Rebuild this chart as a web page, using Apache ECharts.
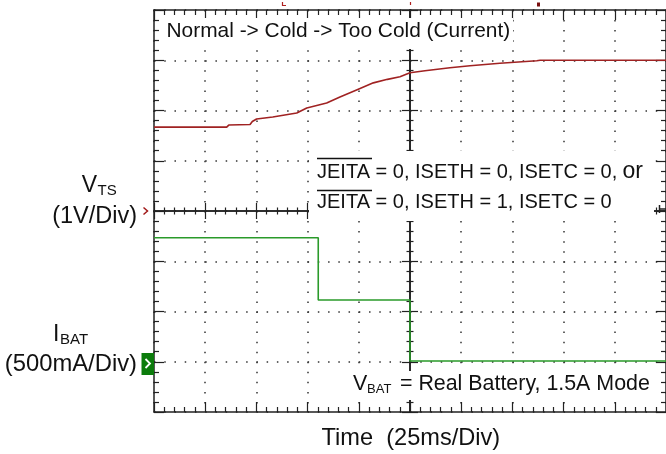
<!DOCTYPE html>
<html>
<head>
<meta charset="utf-8">
<script src="https://cdn.jsdelivr.net/npm/echarts@6/dist/echarts.min.js"></script>
<style>
html,body{margin:0;padding:0;background:#fff;}
#c{width:666px;height:454px;}
</style>
</head>
<body>
<div id="c"></div>
<script>
// ---- data (time in ms, VTS in volts, IBAT in mA) ----
const vtsTime  = [0, 35.5, 36.5, 46.9, 48.0, 50.1, 58.0, 69.7, 74.6, 84.3, 90.8, 98.9, 107.1, 114.0, 120.1, 125.0, 132.3, 144.5, 154.3, 168.9, 186.9, 188.5, 250];
const vtsVolts = [1.67, 1.67, 1.71, 1.72, 1.78, 1.83, 1.87, 1.95, 2.05, 2.15, 2.27, 2.41, 2.55, 2.62, 2.67, 2.75, 2.79, 2.85, 2.89, 2.94, 2.99, 3.0, 3.0];
const ibatTime = [0, 80.2, 80.2, 125.0, 125.0, 250];
const ibatMa   = [1234, 1234, 614, 614, 7, 7];
const timeTicks = [0, 25, 50, 75, 100, 125, 150, 175, 200, 225, 250];

const FONT = "'Liberation Sans', Arial, Helvetica, sans-serif";
const chart = echarts.init(document.getElementById('c'), null, {renderer: 'canvas'});

const borderLine = {show: true, onZero: false, lineStyle: {color: '#222', width: 1.5}};
const tickIn = {show: true, inside: true, length: 10, lineStyle: {color: '#222', width: 1.2}};
const minorIn = {show: true, splitNumber: 5, length: 5, lineStyle: {color: '#222', width: 1.2}};
const hiddenLabel = {show: false};

function xBase(extra) {
  return Object.assign({
    type: 'value', min: timeTicks[0], max: timeTicks[timeTicks.length - 1], interval: 25,
    axisLabel: hiddenLabel, splitLine: {show: false}
  }, extra);
}
function yBase(extra) {
  return Object.assign({
    type: 'value', min: -4, max: 4, interval: 1,
    axisLabel: hiddenLabel, splitLine: {show: false}
  }, extra);
}

const option = {
  animation: false,
  backgroundColor: '#fff',
  grid: {left: 154, top: 10, width: 512, height: 402, containLabel: false},
  xAxis: [
    xBase({position: 'bottom', axisLine: borderLine, axisTick: tickIn, minorTick: minorIn,
      splitLine: {show: true, lineStyle: {color: '#333', width: 1.5, type: [1.5, 8.55]}}}),
    xBase({position: 'top', axisLine: borderLine, axisTick: tickIn, minorTick: minorIn}),
    xBase({position: 'bottom', axisLine: {show: true, onZero: true, onZeroAxisIndex: 0, lineStyle: {color: '#222', width: 1.5}},
      axisTick: {show: true, inside: true, length: 8, lineStyle: {color: '#222', width: 1.2}},
      minorTick: {show: true, splitNumber: 5, length: 3.5, lineStyle: {color: '#222', width: 1.2}}}),
    xBase({position: 'bottom', axisLine: {show: true, onZero: true, onZeroAxisIndex: 0, lineStyle: {color: '#222', width: 1.5}},
      axisTick: {show: true, inside: false, length: 8, lineStyle: {color: '#222', width: 1.2}},
      minorTick: {show: true, splitNumber: 5, length: 3.5, lineStyle: {color: '#222', width: 1.2}}}),
    {type: 'value', min: -125, max: 125, show: false, axisLine: {onZero: false}}
  ],
  yAxis: [
    yBase({position: 'left', axisLine: borderLine, axisTick: tickIn, minorTick: minorIn,
      splitLine: {show: true, lineStyle: {color: '#333', width: 1.5, type: [1.5, 8.74]}}}),
    {type: 'value', min: -500, max: 3500, interval: 500, show: false, axisLine: {onZero: false}},
    yBase({position: 'right', axisLine: borderLine, axisTick: tickIn, minorTick: minorIn}),
    yBase({position: 'left', axisLine: {show: true, onZero: true, onZeroAxisIndex: 4, lineStyle: {color: '#222', width: 1.6}},
      axisTick: {show: true, inside: true, length: 8, lineStyle: {color: '#222', width: 1.2}},
      minorTick: {show: true, splitNumber: 5, length: 3.5, lineStyle: {color: '#222', width: 1.2}}}),
    yBase({position: 'left', axisLine: {show: true, onZero: true, onZeroAxisIndex: 4, lineStyle: {color: '#222', width: 1.6}},
      axisTick: {show: true, inside: false, length: 8, lineStyle: {color: '#222', width: 1.2}},
      minorTick: {show: true, splitNumber: 5, length: 3.5, lineStyle: {color: '#222', width: 1.2}}})
  ],
  series: [
    {type: 'line', name: 'VTS', xAxisIndex: 0, yAxisIndex: 0, symbol: 'none', z: 5,
      lineStyle: {color: '#a02222', width: 1.6},
      data: vtsTime.map((t, i) => [t, vtsVolts[i]])},
    {type: 'line', name: 'IBAT', xAxisIndex: 0, yAxisIndex: 1, symbol: 'none', z: 5,
      lineStyle: {color: '#2a9a2a', width: 1.6},
      data: ibatTime.map((t, i) => [t, ibatMa[i]])}
  ],
  graphic: [
    // white annotation boxes
    {type: 'rect', z: 100, shape: {x: 161, y: 18, width: 352, height: 31}, style: {fill: '#fff'}},
    {type: 'rect', z: 100, shape: {x: 309, y: 151, width: 345, height: 70}, style: {fill: '#fff'}},
    {type: 'rect', z: 100, shape: {x: 348, y: 371, width: 307, height: 29}, style: {fill: '#fff'}},
    // annotation texts
    {type: 'text', z: 110, style: {text: 'Normal -> Cold -> Too Cold (Current)', x: 166.5, y: 31,
      font: '20.9px ' + FONT, fill: '#111', align: 'left', verticalAlign: 'middle'}},
    {type: 'text', z: 110, style: {text: 'JEITA = 0, ISETH = 0, ISETC = 0, ', x: 317, y: 172,
      font: '20px ' + FONT, fill: '#111', align: 'left', verticalAlign: 'middle'}},
    {type: 'text', z: 110, style: {text: 'or', x: 622.5, y: 171.5,
      font: '23px ' + FONT, fill: '#111', align: 'left', verticalAlign: 'middle'}},
    {type: 'text', z: 110, style: {text: 'JEITA = 0, ISETH = 1, ISETC = 0', x: 317, y: 202.5,
      font: '20px ' + FONT, fill: '#111', align: 'left', verticalAlign: 'middle'}},
    {type: 'line', z: 110, shape: {x1: 317, y1: 158.5, x2: 372, y2: 158.5}, style: {stroke: '#111', lineWidth: 1.3}},
    {type: 'line', z: 110, shape: {x1: 317, y1: 190.5, x2: 372, y2: 190.5}, style: {stroke: '#111', lineWidth: 1.3}},
    {type: 'text', z: 110, style: {text: 'V', x: 353, y: 384.2,
      font: '21.4px ' + FONT, fill: '#111', align: 'left', verticalAlign: 'middle'}},
    {type: 'text', z: 110, style: {text: 'BAT', x: 367, y: 389,
      font: '13px ' + FONT, fill: '#111', align: 'left', verticalAlign: 'middle'}},
    {type: 'text', z: 110, style: {text: ' = Real Battery, 1.5A Mode', x: 394, y: 384.2,
      font: '21.4px ' + FONT, fill: '#111', align: 'left', verticalAlign: 'middle'}},
    // axis titles
    {type: 'text', z: 110, style: {text: 'Time  (25ms/Div)', x: 321.5, y: 438,
      font: '23.6px ' + FONT, fill: '#111', align: 'left', verticalAlign: 'middle'}},
    {type: 'text', z: 110, style: {text: 'V', x: 97, y: 186,
      font: '23px ' + FONT, fill: '#111', align: 'right', verticalAlign: 'middle'}},
    {type: 'text', z: 110, style: {text: 'TS', x: 97.5, y: 190.5,
      font: '15px ' + FONT, fill: '#111', align: 'left', verticalAlign: 'middle'}},
    {type: 'text', z: 110, style: {text: '(1V/Div)', x: 137, y: 216.5,
      font: '23.5px ' + FONT, fill: '#111', align: 'right', verticalAlign: 'middle'}},
    {type: 'text', z: 110, style: {text: 'I', x: 59.5, y: 335,
      font: '23px ' + FONT, fill: '#111', align: 'right', verticalAlign: 'middle'}},
    {type: 'text', z: 110, style: {text: 'BAT', x: 60, y: 340,
      font: '15px ' + FONT, fill: '#111', align: 'left', verticalAlign: 'middle'}},
    {type: 'text', z: 110, style: {text: '(500mA/Div)', x: 137, y: 364,
      font: '23.8px ' + FONT, fill: '#111', align: 'right', verticalAlign: 'middle'}},
    // channel markers
    {type: 'polyline', z: 110, shape: {points: [[143.5, 207.5], [147.5, 211], [143.5, 214.5]]},
      style: {stroke: '#a01818', lineWidth: 1.5, fill: null}},
    {type: 'rect', z: 110, shape: {x: 141.5, y: 353, width: 12.5, height: 22}, style: {fill: '#0c7c0c'}},
    {type: 'polyline', z: 111, shape: {points: [[145.5, 359], [150, 363.5], [145.5, 368]]},
      style: {stroke: '#fff', lineWidth: 1.8, fill: null}},
    // right edge trigger-level marker
    {type: 'line', z: 110, shape: {x1: 659, y1: 209, x2: 666, y2: 209}, style: {stroke: '#222', lineWidth: 1.5}},
    {type: 'line', z: 110, shape: {x1: 659.5, y1: 205, x2: 659.5, y2: 213}, style: {stroke: '#222', lineWidth: 1.5}},
    // top small markers
    {type: 'polyline', z: 110, shape: {points: [[282.5, 2], [282.5, 5.5], [286, 5.5]]},
      style: {stroke: '#b02020', lineWidth: 1.2, fill: null}},
    {type: 'line', z: 110, shape: {x1: 410.5, y1: 2, x2: 410.5, y2: 5}, style: {stroke: '#b02020', lineWidth: 1.2}},
    {type: 'rect', z: 110, shape: {x: 537, y: 2.5, width: 3, height: 4}, style: {fill: '#7a1010'}}
  ]
};
chart.setOption(option);
</script>
</body>
</html>
